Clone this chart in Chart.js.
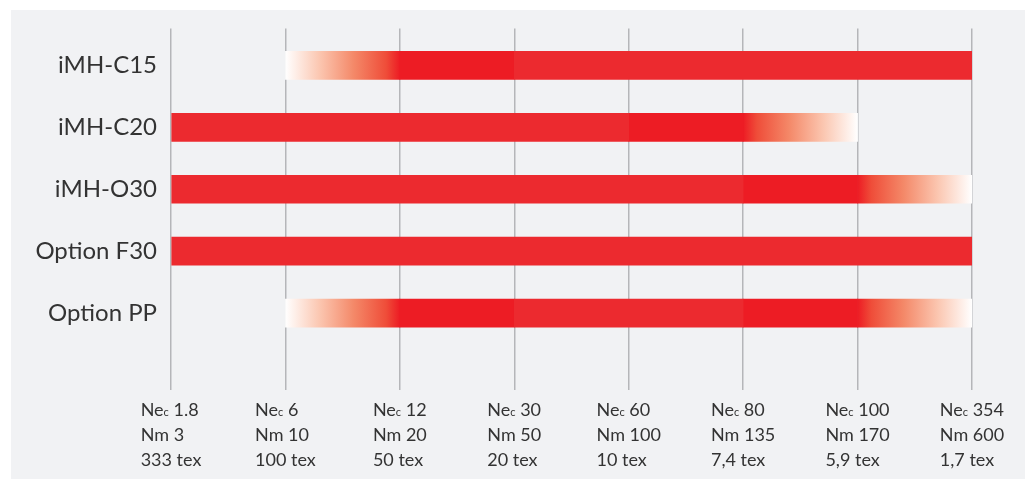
<!DOCTYPE html>
<html>
<head>
<meta charset="utf-8">
<script src="https://cdn.jsdelivr.net/npm/chart.js@4/dist/chart.umd.min.js"></script>
<style>
  html, body { margin: 0; padding: 0; background: #ffffff; }
  #wrap { width: 1030px; height: 479px; }
</style>
</head>
<body>
<div id="wrap"><canvas id="yarnChart" width="1030" height="479"></canvas></div>
<script>
// Rows (machines / options)
const rows = ['iMH-C15', 'iMH-C20', 'iMH-O30', 'Option F30', 'Option PP'];

// Yarn count tick labels (x positions 0..7)
const necValues = ['1.8', '6', '12', '30', '60', '80', '100', '354'];
const nmValues = ['3', '10', '20', '50', '100', '135', '170', '600'];
const texValues = ['333', '100', '50', '20', '10', '7,4', '5,9', '1,7'];

// Bar ranges, in tick index units (null = no segment)
const baseRange = [[3, 7], [0, 4], [0, 5], [0, 7], [3, 5]];
const darkRange = [[2, 3], [4, 5], [5, 6], null, [2, 3]];
const darkRange2 = [null, null, null, null, [5, 6]];
const fadeInRange = [[1, 2], null, null, null, [1, 2]];
const fadeOutRange = [null, [5, 6], [6, 7], null, [6, 7]];

const baseRed = '#ec2a2f';
const darkRed = '#ed1c24';
const textColor = '#333333';
const gridColor = '#b5b6b9';
const panelColor = '#f1f2f4';
const fontFamily = 'Lato, "Open Sans", sans-serif';

// gradient white -> red (or reverse) across a segment
function fadeFill(ctx, reverse) {
  const chart = ctx.chart;
  const x = chart.scales.x;
  const r = ctx.raw && ctx.raw.x;
  if (!x || !r) return darkRed;
  const x0 = x.getPixelForValue(r[0]);
  const x1 = x.getPixelForValue(r[1]);
  if (!isFinite(x0) || !isFinite(x1) || x0 === x1) return darkRed;
  const g = chart.ctx.createLinearGradient(reverse ? x1 : x0, 0, reverse ? x0 : x1, 0);
  g.addColorStop(0, '#ffffff');
  g.addColorStop(0.3, '#fbc6b0');
  g.addColorStop(0.6, '#f48868');
  g.addColorStop(0.88, '#ef4d39');
  g.addColorStop(1, darkRed);
  return g;
}

const panelPlugin = {
  id: 'panel',
  beforeDraw(chart) {
    const c = chart.ctx;
    c.save();
    c.fillStyle = '#ffffff';
    c.fillRect(0, 0, chart.width, chart.height);
    c.fillStyle = panelColor;
    c.fillRect(11, 10, 1014, chart.height - 10);
    c.restore();
  }
};

// three-line yarn count labels under each grid line
const countLabels = {
  id: 'countLabels',
  afterDraw(chart) {
    const c = chart.ctx;
    const x = chart.scales.x;
    const bottom = chart.chartArea.bottom;
    const big = '18px ' + fontFamily;
    const small = '11px ' + fontFamily;
    c.save();
    c.fillStyle = textColor;
    c.textAlign = 'left';
    c.textBaseline = 'alphabetic';
    necValues.forEach((nec, i) => {
      const px = x.getPixelForValue(i);
      c.font = big;
      const wNe = c.measureText('Ne').width;
      const wRest = c.measureText(' ' + nec).width;
      const wNm = c.measureText('Nm ' + nmValues[i]).width;
      const wTex = c.measureText(texValues[i] + ' tex').width;
      c.font = small;
      const wC = c.measureText('c').width;
      const w1 = wNe + wC + wRest;
      const left = px - Math.max(w1, wNm, wTex) / 2;
      c.font = big;
      c.fillText('Ne', left, bottom + 26);
      c.font = small;
      c.fillText('c', left + wNe, bottom + 26);
      c.font = big;
      c.fillText(' ' + nec, left + wNe + wC, bottom + 26);
      c.fillText('Nm ' + nmValues[i], left, bottom + 51);
      c.fillText(texValues[i] + ' tex', left, bottom + 76);
    });
    c.restore();
  }
};

function segment(label, ranges, color) {
  return {
    label: label,
    data: ranges.map((r, i) => r ? { x: r, y: i } : null).filter(Boolean),
    backgroundColor: color,
    borderWidth: 0,
    barThickness: 28,
    grouped: false
  };
}

new Chart(document.getElementById('yarnChart'), {
  type: 'bar',
  data: {
    datasets: [
      segment('base', baseRange, baseRed),
      segment('dark', darkRange, darkRed),
      segment('dark2', darkRange2, darkRed),
      segment('fadeIn', fadeInRange, ctx => fadeFill(ctx, false)),
      segment('fadeOut', fadeOutRange, ctx => fadeFill(ctx, true))
    ]
  },
  options: {
    indexAxis: 'y',
    responsive: false,
    animation: false,
    layout: { padding: { left: 0, top: 28, right: 58, bottom: 89 } },
    plugins: {
      legend: { display: false },
      tooltip: { enabled: false }
    },
    scales: {
      x: {
        type: 'linear',
        min: 0,
        max: necValues.length - 1,
        afterBuildTicks(scale) {
          scale.ticks = necValues.map((v, i) => ({ value: i }));
        },
        ticks: { display: false },
        grid: { color: gridColor, lineWidth: 1.5, drawTicks: false },
        border: { display: false }
      },
      y: {
        type: 'linear',
        reverse: true,
        offset: false,
        min: -0.597,
        max: 5.242,
        afterBuildTicks(scale) {
          scale.ticks = rows.map((r, i) => ({ value: i }));
        },
        afterFit(scale) { scale.width = 171; },
        ticks: {
          callback: (v) => rows[v],
          color: textColor,
          font: { family: fontFamily, size: 24 },
          padding: 14
        },
        grid: { display: false, drawTicks: false, offset: false },
        border: { display: false }
      }
    }
  },
  plugins: [panelPlugin, countLabels]
});
</script>
</body>
</html>
